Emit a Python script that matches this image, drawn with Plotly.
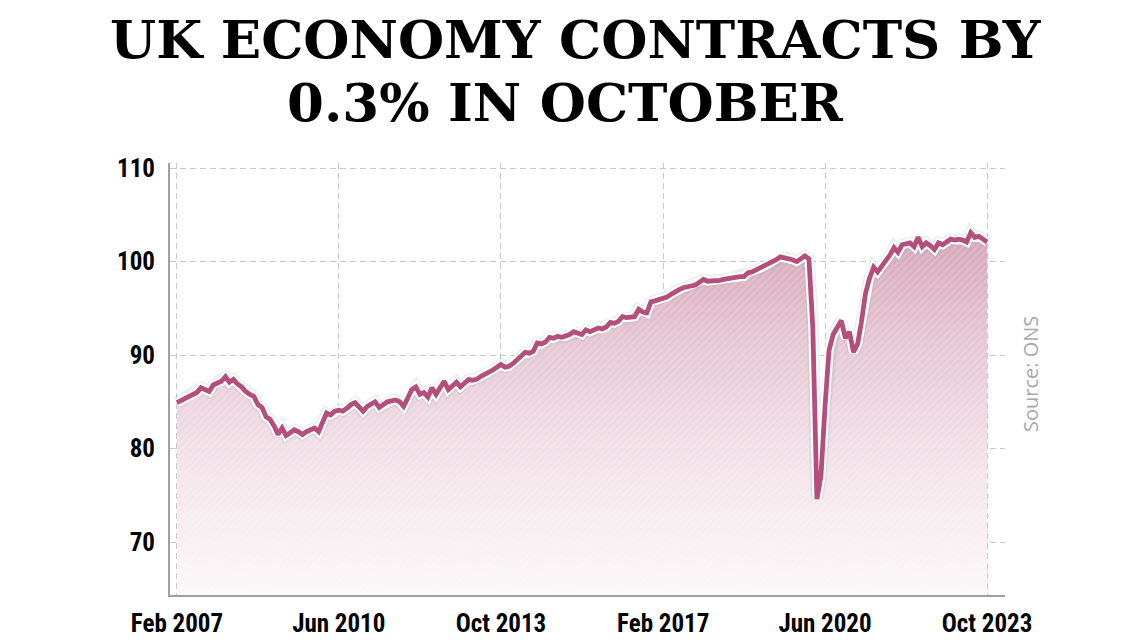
import pandas as pd
import plotly.graph_objects as go

# Monthly GDP index, Feb 2007 .. Oct 2023
start_month = "2007-02-01"
gdp_2007 = [84.9, 85.1, 85.3, 85.6, 85.8, 86.0, 86.5, 86.3, 86.1, 86.8, 87.0]
gdp_2008 = [87.2, 87.7, 87.1, 87.4, 86.9, 86.6, 86.1, 85.8, 85.6, 84.7, 84.4, 83.4]
gdp_2009 = [83.1, 82.4, 81.5, 82.2, 81.4, 81.7, 82.0, 81.8, 81.5, 81.8, 82.0, 82.2]
gdp_2010 = [81.8, 82.9, 83.8, 83.6, 84.0, 84.1, 84.0, 84.3, 84.7, 84.9, 84.5, 84.0]
gdp_2011 = [84.5, 84.8, 85.0, 84.4, 84.7, 85.0, 85.1, 85.2, 85.0, 84.5, 85.4, 86.3]
gdp_2012 = [86.6, 85.8, 86.0, 85.5, 86.5, 85.8, 86.5, 87.2, 86.3, 86.7, 87.1, 86.6]
gdp_2013 = [87.0, 87.4, 87.3, 87.4, 87.7, 87.9, 88.1, 88.4, 88.7, 89.0, 88.7, 88.8]
gdp_2014 = [89.1, 89.5, 89.9, 90.3, 90.2, 90.4, 91.3, 91.2, 91.4, 91.9, 91.8, 92.0]
gdp_2015 = [91.9, 92.0, 92.2, 92.5, 92.4, 92.2, 92.7, 92.5, 92.7, 92.9, 92.8, 93.0]
gdp_2016 = [93.5, 93.4, 93.6, 94.1, 94.0, 94.0, 94.1, 94.9, 94.6, 94.5, 95.7, 95.8]
gdp_2017 = [95.9, 96.0, 96.2, 96.5, 96.8, 97.0, 97.2, 97.3, 97.5, 97.5, 97.8, 98.1]
gdp_2018 = [97.9, 97.9, 97.9, 98.0, 98.1, 98.2, 98.3, 98.4, 98.4, 98.4, 98.8, 98.9]
gdp_2019 = [99.1, 99.3, 99.5, 99.7, 99.9, 100.2, 100.5, 100.4, 100.4, 100.2, 100.0, 100.3]
gdp_2020 = [100.6, 100.3, 93.0, 74.6, 77.0, 84.5, 90.5, 92.2, 93.0, 93.7, 91.8, 92.5]
gdp_2021 = [90.3, 91.2, 93.5, 96.6, 98.2, 99.4, 98.9, 99.5, 100.0, 100.7, 101.5, 101.0]
gdp_2022 = [101.8, 101.9, 102.0, 101.6, 102.6, 101.6, 102.0, 101.7, 101.3, 102.0, 101.8, 102.1]
gdp_2023 = [102.4, 102.3, 102.4, 102.3, 102.1, 103.1, 102.6, 102.7, 102.4, 102.1]

tick_dates = ["2007-02-01", "2010-06-01", "2013-10-01", "2017-02-01", "2020-06-01", "2023-10-01"]
tick_labels = ["Feb 2007", "Jun 2010", "Oct 2013", "Feb 2017", "Jun 2020", "Oct 2023"]
y_ticks = [70, 80, 90, 100, 110]

title_line1 = "UK ECONOMY CONTRACTS BY"
title_line2 = "0.3% IN OCTOBER"
source_text = "Source: ONS"

values = (gdp_2007 + gdp_2008 + gdp_2009 + gdp_2010 + gdp_2011 + gdp_2012 + gdp_2013
          + gdp_2014 + gdp_2015 + gdp_2016 + gdp_2017 + gdp_2018 + gdp_2019 + gdp_2020
          + gdp_2021 + gdp_2022 + gdp_2023)
months = pd.date_range(start_month, periods=len(values), freq="MS")

LINE = "#b44f7c"
fig = go.Figure()

# gradient area
fig.add_trace(go.Scatter(
    x=months, y=values, mode="lines", line=dict(width=0), fill="tozeroy",
    fillgradient=dict(type="vertical", start=64.3, stop=101.5,
                      colorscale=[[0, "rgb(251,248,249)"], [0.35, "rgb(244,229,235)"],
                                  [0.7, "rgb(231,201,213)"], [1, "rgb(216,170,188)"]]),
    hoverinfo="skip", showlegend=False))
# hatch texture
fig.add_trace(go.Scatter(
    x=months, y=values, mode="lines", line=dict(width=0), fill="tozeroy",
    fillcolor="rgba(0,0,0,0)",
    fillpattern=dict(shape="/", fgcolor="rgba(255,255,255,0.45)", bgcolor="rgba(0,0,0,0)",
                     size=5, solidity=0.25),
    hoverinfo="skip", showlegend=False))
# soft shadow
fig.add_trace(go.Scatter(x=months, y=values, mode="lines",
                         line=dict(color="rgba(120,170,170,0.18)", width=12),
                         hoverinfo="skip", showlegend=False))
# white halo
fig.add_trace(go.Scatter(x=months, y=values, mode="lines",
                         line=dict(color="white", width=9), hoverinfo="skip", showlegend=False))
# main line
fig.add_trace(go.Scatter(x=months, y=values, mode="lines",
                         line=dict(color=LINE, width=4.8), showlegend=False))

tick_font = dict(family="Liberation Sans Narrow, Roboto Condensed, Arial Narrow, sans-serif",
                 size=25, color="black", weight="bold")
title_font = dict(family="DejaVu Serif", size=53, color="black", weight="bold")

L, R, T, B = 170, 135, 163, 46
W, H = 1140, 641
plot_w = W - L - R
plot_h = H - T - B


def px_x(px):
    return (px - L) / plot_w


def px_y(py):
    return (H - B - py) / plot_h


fig.update_layout(
    width=W, height=H,
    margin=dict(l=L, r=R, t=T, b=B, autoexpand=False),
    paper_bgcolor="white", plot_bgcolor="white",
    xaxis=dict(
        type="date", range=["2006-12-11", "2024-02-13"],
        tickvals=tick_dates, ticktext=tick_labels, tickfont=tick_font,
        showgrid=True, gridcolor="#c8c8c8", griddash="6px,4px", gridwidth=1,
        showline=True, linecolor="#a0a0a0", linewidth=2, automargin=False,
        ticks="", ticklabelstandoff=5, zeroline=False, fixedrange=True),
    yaxis=dict(
        range=[64.33, 110.55], tickvals=y_ticks, tickfont=tick_font,
        showgrid=True, gridcolor="#c8c8c8", griddash="6px,4px", gridwidth=1,
        showline=True, linecolor="#a0a0a0", linewidth=2, automargin=False,
        ticks="", ticklabelstandoff=8, zeroline=False, fixedrange=True),
    annotations=[
        dict(text=title_line1, xref="paper", yref="paper", x=px_x(576), y=px_y(39),
             showarrow=False, xanchor="center", yanchor="middle", font=title_font),
        dict(text=title_line2, xref="paper", yref="paper", x=px_x(565), y=px_y(102),
             showarrow=False, xanchor="center", yanchor="middle", font=title_font),
        dict(text=source_text, xref="paper", yref="paper", x=px_x(1030), y=px_y(374),
             showarrow=False, textangle=-90, xanchor="center", yanchor="middle",
             font=dict(family="Open Sans", size=20, color="#a8a8a8")),
    ],
)

fig.write_html("out.html", config={"displayModeBar": False},
               post_script="document.body.style.margin='0';document.body.style.overflow='hidden';")
